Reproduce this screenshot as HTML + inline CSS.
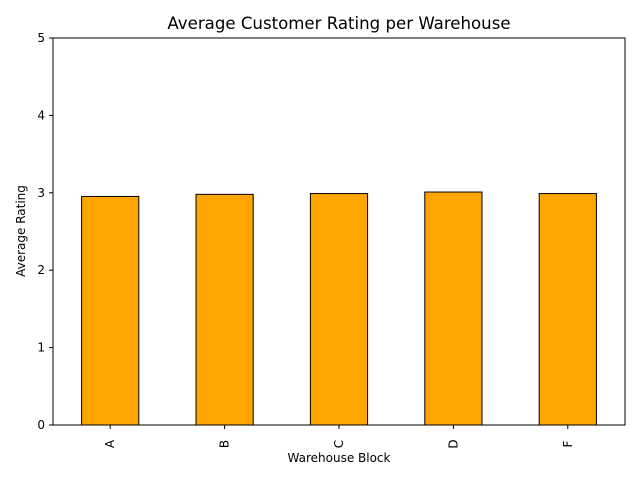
<!DOCTYPE html>
<html><head><meta charset="utf-8"><style>
body{margin:0;background:#fff;font-family:"Liberation Sans","DejaVu Sans",sans-serif}
svg text{font-family:"DejaVu Sans","Liberation Sans",sans-serif}
</style></head><body>
<svg id="chart" width="640" height="480" xmlns="http://www.w3.org/2000/svg">
<rect width="640" height="480" fill="#fff"/>
<text x="339" y="29" font-size="16.6" text-anchor="middle">Average Customer Rating per Warehouse</text>
<text x="339" y="462" font-size="12" text-anchor="middle">Warehouse Block</text>
<text transform="translate(25,231) rotate(-90)" font-size="12" text-anchor="middle">Average Rating</text>
<g id="bars"></g><g id="axes"></g>
</svg>
<script>
const categories = ["A","B","C","D","F"];
const ratings = [2.953, 2.98, 2.99, 3.01, 2.99];
const yTicks = [0,1,2,3,4,5];
const L=53,R=625,T=38,B=425,ymax=5;
const ns="http://www.w3.org/2000/svg";
const bw=(R-L)/categories.length;
const xc=i=>L+bw*(i+0.5);
const y=v=>B-(v/ymax)*(B-T);
const bars=document.getElementById('bars'),axes=document.getElementById('axes');
function mk(tag,attrs,parent){const e=document.createElementNS(ns,tag);for(const k in attrs)e.setAttribute(k,attrs[k]);parent.appendChild(e);return e;}
categories.forEach((c,i)=>{
  const r=mk('rect',{x:xc(i)-bw*0.25,y:y(ratings[i]),width:bw*0.5,height:B-y(ratings[i]),fill:'#ffa500',stroke:'#000','stroke-width':1},bars);
  
  
  const t=mk('line',{x1:xc(i),x2:xc(i),y1:B,y2:B+4,stroke:'#000'},axes);
  
  
  const lb=mk('text',{transform:`translate(${xc(i)+4},${B+19}) rotate(-90)`,'font-size':12,'text-anchor':'middle'},axes);
  lb.textContent=c;
  
  
});
yTicks.forEach(v=>{
  const t=mk('line',{x1:L-4,x2:L,y1:y(v),y2:y(v),stroke:'#000'},axes);
  
  
  const lb=mk('text',{x:L-8,y:y(v)+4,'font-size':12,'text-anchor':'end'},axes);
  lb.textContent=v;
  
  
});
const f=mk('rect',{x:L,y:T,width:R-L,height:B-T,fill:'none',stroke:'#000','stroke-width':1},axes);


</script>
</body></html>
